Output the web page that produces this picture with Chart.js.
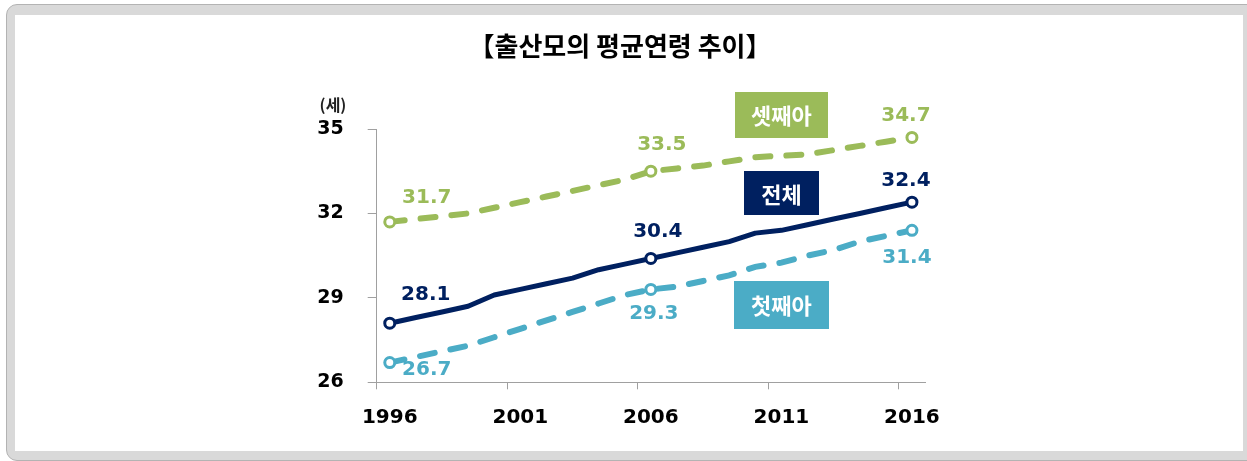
<!DOCTYPE html>
<html><head><meta charset="utf-8">
<script src="https://cdn.jsdelivr.net/npm/chart.js@4"></script>
<style>
html,body{margin:0;padding:0;width:1247px;height:461px;overflow:hidden;background:#fff;}
#frame{position:absolute;left:6px;top:4px;width:1270px;height:457px;border-radius:11px;background:#d9d9d9;border:1px solid #b3b3b3;box-sizing:border-box;}
#inner{position:absolute;left:15px;top:15px;width:1228px;height:436px;background:#fff;}
#c{position:absolute;left:0;top:0;}
</style></head>
<body>
<div id="frame"></div><div id="inner"></div>
<canvas id="c" width="1247" height="461"></canvas>
<script>
const years = ['1996','1997','1998','1999','2000','2001','2002','2003','2004','2005','2006','2007','2008','2009','2010','2011','2012','2013','2014','2015','2016'];
const totalAge  = [28.1,28.3,28.5,28.7,29.1,29.3,29.5,29.7,30.0,30.2,30.4,30.6,30.8,31.0,31.3,31.4,31.6,31.8,32.0,32.2,32.4];
const firstAge  = [26.7,26.9,27.1,27.3,27.6,27.9,28.2,28.5,28.8,29.1,29.3,29.4,29.6,29.8,30.1,30.25,30.5,30.7,31.0,31.2,31.4];
const thirdAge  = [31.7,31.8,31.9,32.0,32.2,32.4,32.6,32.8,33.0,33.2,33.5,33.6,33.7,33.85,34.0,34.05,34.1,34.25,34.4,34.55,34.7];
const seriesNames = ['셋째아','전체','첫째아'];
const yTicks = [26,29,32,35];
const titleText = '【출산모의 평균연령 추이】';
const unitText = '(세)';

const NAVY = '#002060', GREEN = '#9BBB59', CYAN = '#4BACC6';
const labeled = [0,10,20];
const labelOffsets = [
  [[37,-24],[11,-26],[-6,-22]],
  [[36,-28],[7,-27],[-6,-21]],
  [[37,7],[3,24],[-5,27]]
];
const boxStyles = [
  {text: seriesNames[0], color: GREEN, xi: 15, yv: 35.5, w: 93, h: 46},
  {text: seriesNames[1], color: NAVY,  xi: 15, yv: 32.72, w: 75, h: 44},
  {text: seriesNames[2], color: CYAN,  xi: 15, yv: 28.75, w: 95, h: 48}
];

const decor = {
  id: 'decor',
  afterDatasetsDraw(chart) {
    const ctx = chart.ctx;
    const xs = chart.scales.x, ys = chart.scales.y;
    ctx.save();
    ctx.fillStyle = '#000';
    ctx.font = 'bold 26px "Noto Sans CJK KR"';
    ctx.textAlign = 'center'; ctx.textBaseline = 'middle';
    ctx.fillText(titleText, 620, 46);
    ctx.font = 'bold 16px "Noto Sans CJK KR"';
    ctx.fillStyle = '#222';
    ctx.fillText(unitText, 333, 105);
    ctx.font = 'bold 20px "DejaVu Sans"';
    chart.data.datasets.forEach((ds, di) => {
      const meta = chart.getDatasetMeta(di);
      labeled.forEach((idx, k) => {
        const p = meta.data[idx];
        const o = labelOffsets[di][k];
        ctx.fillStyle = ds.borderColor;
        ctx.fillText(ds.data[idx].toFixed(1), p.x + o[0], p.y + o[1]);
      });
    });
    ctx.font = 'bold 22px "Noto Sans CJK KR"';
    boxStyles.forEach(b => {
      const cx = xs.getPixelForValue(b.xi), cy = ys.getPixelForValue(b.yv);
      ctx.fillStyle = b.color;
      ctx.fillRect(Math.round(cx - b.w/2), Math.round(cy - b.h/2), b.w, b.h);
      ctx.fillStyle = '#fff';
      ctx.fillText(b.text, cx, cy + 1);
    });
    ctx.restore();
  }
};

const pr = c => (c.dataIndex % 10 === 0 ? 5 : 0);
const common = {pointRadius: pr, pointHoverRadius: pr, pointBorderWidth: 3, pointBackgroundColor: '#fff', tension: 0, fill: false};

new Chart(document.getElementById('c'), {
  type: 'line',
  data: {
    labels: years,
    datasets: [
      Object.assign({label: seriesNames[0], data: thirdAge, borderColor: GREEN, pointBorderColor: GREEN, borderWidth: 6, borderDash: [15,16], borderCapStyle: 'round'}, common),
      Object.assign({label: seriesNames[1], data: totalAge, borderColor: NAVY, pointBorderColor: NAVY, borderWidth: 5, borderCapStyle: 'round', borderJoinStyle: 'round'}, common),
      Object.assign({label: seriesNames[2], data: firstAge, borderColor: CYAN, pointBorderColor: CYAN, borderWidth: 6, borderDash: [15,16], borderCapStyle: 'round'}, common)
    ]
  },
  options: {
    responsive: false, animation: false, devicePixelRatio: 1,
    layout: {padding: {left: 300, right: 322, top: 129, bottom: 28.7}},
    plugins: {legend: {display: false}, tooltip: {enabled: false}, title: {display: false}},
    scales: {
      x: {
        type: 'category', offset: true,
        grid: {offset: true, drawOnChartArea: false, drawTicks: true, tickLength: 7,
               tickColor: c => (c.index !== undefined && c.index % 5 === 0) ? '#a0a0a0' : 'rgba(0,0,0,0)'},
        border: {color: '#a0a0a0', width: 1},
        ticks: {autoSkip: false, maxRotation: 0, minRotation: 0, padding: 16, color: '#000',
                font: {family: 'DejaVu Sans', size: 20, weight: 'bold'},
                callback: (v, i) => (i % 5 === 0 ? years[i] : '')},
        afterFit: s => { s.height = 50; }
      },
      y: {
        min: yTicks[0], max: yTicks[yTicks.length - 1],
        afterBuildTicks: s => { s.ticks = yTicks.map(v => ({value: v})); },
        grid: {drawOnChartArea: false, tickLength: 9, tickColor: '#a0a0a0'},
        border: {color: '#a0a0a0', width: 1},
        ticks: {padding: 24, color: '#000', font: {family: 'DejaVu Sans', size: 19, weight: 'bold'}},
        afterFit: s => { s.width = 76.7; }
      }
    }
  },
  plugins: [decor]
});
</script>
</body></html>
